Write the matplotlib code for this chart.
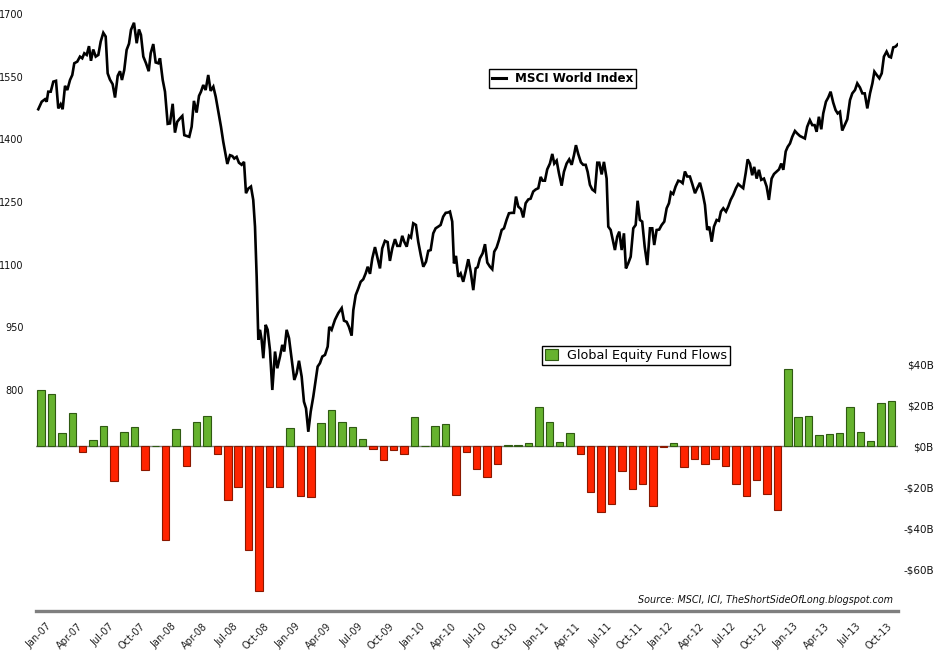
import matplotlib
matplotlib.use("Agg")
import matplotlib.pyplot as plt
import matplotlib.transforms as mtransforms
from matplotlib.lines import Line2D
from matplotlib.patches import Patch
import numpy as np

# ---------------- data ----------------
months = ["Jan", "Feb", "Mar", "Apr", "May", "Jun", "Jul", "Aug", "Sep", "Oct", "Nov", "Dec"]
years = ["07", "08", "09", "10", "11", "12", "13"]
month_labels = [f"{m}-{y}" for y in years for m in months][:83]   # Jan-07 .. Nov-13

# Global equity fund flows, $B per month (Jan-07 .. Nov-13)
flows = [27.5, 25.5, 6.3, 16.3, -2.6, 3.1, 9.9, -16.7, 7.0, 9.4, -11.4, 0.0,
         -45.5, 8.5, -9.4, 11.9, 14.8, -3.9, -26.0, -19.7, -50.4, -70.7, -19.7, -19.7,
         8.9, -24.4, -24.9, 11.2, 17.6, 11.9, 9.3, 3.4, -1.5, -6.8, -2.0, -3.6,
         14.1, 0.0, 9.9, 10.7, -23.6, -2.6, -11.2, -14.8, -8.8, 0.5, 0.5, 1.5,
         19.2, 11.9, 2.0, 6.3, -3.9, -22.1, -31.9, -28.3, -12.0, -20.7, -18.5, -29.3,
         -0.5, 1.5, -9.9, -6.3, -8.5, -6.3, -9.4, -18.2, -24.4, -16.3, -23.1, -30.9,
         37.6, 14.1, 14.6, 5.4, 5.9, 6.3, 19.0, 6.8, 2.6, 21.0, 22.0]

# MSCI World Index (weekly); time in months since Jan-07 (bar index units)
msci_t = [-0.28, 0.05, 0.37, 0.53, 0.68, 0.92, 1.17, 1.43, 1.65, 1.88, 2.07, 2.30, 2.52, 2.78,
          3.00, 3.19, 3.48, 3.74, 3.96, 4.16, 4.39, 4.61, 4.80, 5.02, 5.26, 5.51, 5.74, 5.99,
          6.22, 6.41, 6.63, 6.89, 7.12, 7.38, 7.60, 7.79, 8.01, 8.24, 8.47, 8.66, 8.95, 9.21,
          9.43, 9.62, 9.85, 10.11, 10.37, 10.56, 10.81, 11.04, 11.29, 11.46, 11.72, 11.94,
          12.20, 12.42, 12.68, 12.90, 13.12, 13.38, 13.61, 13.80, 14.03, 14.28, 14.51, 14.73,
          14.99, 15.22, 15.41, 15.63, 15.86, 16.11, 16.34, 16.60, 16.83, 17.08, 17.34, 17.56,
          17.79, 17.95, 18.21, 18.43, 18.62, 18.85, 19.07, 19.33, 19.56, 19.75, 19.97, 20.23,
          20.45, 20.62, 20.78, 20.94, 21.10, 21.26, 21.42, 21.65, 21.84, 22.06, 22.29, 22.55,
          22.77, 23.03, 23.25, 23.44, 23.67, 23.90, 24.16, 24.41, 24.64, 24.86, 25.12, 25.34,
          25.54, 25.76, 25.99, 26.24, 26.47, 26.66, 26.88, 27.11, 27.37, 27.63, 27.78,
          28.01, 28.33, 28.65, 28.98, 29.20, 29.46, 29.68, 29.94, 30.10, 30.33, 30.58, 30.81,
          31.06, 31.29, 31.49, 31.71, 31.93, 32.19, 32.41, 32.67, 32.89, 33.15, 33.41, 33.63,
          33.86, 34.12, 34.34, 34.60, 34.82, 35.01, 35.25, 35.47, 35.66, 35.88, 36.14, 36.36,
          36.62, 36.85, 37.11, 37.33, 37.56, 37.81, 38.04, 38.29, 38.52, 38.77, 39.01, 39.26,
          39.42, 39.64, 39.81, 40.00, 40.22, 40.45, 40.70, 40.93, 41.19, 41.42, 41.67, 41.90,
          42.09, 42.31, 42.57, 42.80, 43.02, 43.28, 43.50, 43.69, 43.92, 44.15, 44.41, 44.63,
          44.89, 45.11, 45.37, 45.59, 45.79, 46.01, 46.27, 46.49, 46.72, 46.97, 47.20, 47.45,
          47.69, 47.94, 48.17, 48.36, 48.58, 48.80, 49.06, 49.29, 49.48, 49.71, 49.93, 50.19,
          50.41, 50.67, 50.92, 51.16, 51.38, 51.57, 51.79, 52.05, 52.27, 52.51, 52.70, 52.92,
          53.14, 53.40, 53.63, 53.82, 54.05, 54.27, 54.53, 54.69, 54.92,
          55.33, 55.55, 55.75, 55.98, 56.20, 56.39, 56.61, 56.85, 57.10, 57.33, 57.52, 57.74,
          57.96, 58.20, 58.45, 58.71, 58.93, 59.12, 59.35, 59.60, 59.84, 60.09, 60.32, 60.54,
          60.73, 60.95, 61.18, 61.44, 61.67, 61.86, 62.08, 62.30, 62.56, 62.79, 63.05, 63.27,
          63.53, 63.79, 64.01, 64.23, 64.43, 64.66, 64.88, 65.14, 65.36, 65.55, 65.78, 66.04,
          66.26, 66.49, 66.74, 67.00, 67.22, 67.45, 67.70, 67.94, 68.13, 68.35, 68.57, 68.76,
          69.00, 69.22, 69.44, 69.70, 69.96, 70.18, 70.44, 70.67, 70.93, 71.15, 71.37, 71.57,
          71.80, 71.99, 72.21, 72.43, 72.69, 72.91, 73.17, 73.40, 73.65, 73.87, 74.13, 74.36,
          74.59, 74.78, 75.00, 75.23, 75.42, 75.68, 75.90, 76.13, 76.38, 76.61, 76.81, 77.03,
          77.25, 77.49, 77.74, 78.00, 78.22, 78.48, 78.70, 78.96, 79.19, 79.42, 79.67, 79.93,
          80.16, 80.35, 80.58, 80.83, 81.06, 81.27, 81.53, 81.76, 81.95, 82.17, 82.40, 82.59]
msci_v = [1472, 1490, 1496, 1490, 1514, 1514, 1538, 1540, 1474, 1484, 1472, 1528, 1518, 1542,
          1554, 1582, 1586, 1598, 1594, 1606, 1602, 1623, 1588, 1615, 1598, 1602, 1634, 1655,
          1646, 1558, 1543, 1532, 1500, 1552, 1563, 1542, 1566, 1614, 1629, 1662, 1679, 1630,
          1663, 1650, 1598, 1582, 1563, 1606, 1628, 1584, 1582, 1594, 1542, 1514,
          1437, 1438, 1485, 1416, 1442, 1450, 1456, 1410, 1408, 1406, 1430, 1492,
          1464, 1504, 1514, 1530, 1518, 1554, 1516, 1526, 1502, 1466, 1430, 1394,
          1362, 1341, 1362, 1360, 1354, 1358, 1344, 1339, 1346, 1271, 1282, 1287,
          1255, 1191, 1071, 920, 944, 920, 876, 956, 944, 896, 800, 892,
          852, 880, 908, 892, 944, 924, 872, 824, 840, 870, 832, 772,
          756, 700, 748, 784, 824, 856, 864, 880, 884, 904, 951,
          944, 968, 984, 996, 966, 963, 951, 930, 991, 1027, 1043, 1059,
          1065, 1079, 1095, 1078, 1115, 1142, 1119, 1091, 1139, 1157, 1154, 1109,
          1139, 1161, 1145, 1145, 1169, 1155, 1143, 1169, 1165, 1199, 1195, 1155,
          1121, 1095, 1107, 1133, 1135, 1175, 1187, 1191, 1195, 1215, 1224, 1225,
          1227, 1203, 1103, 1121, 1071, 1079, 1059, 1083, 1113, 1083, 1039, 1091,
          1094, 1115, 1127, 1149, 1105, 1095, 1089, 1131, 1141, 1159, 1183, 1187,
          1208, 1223, 1224, 1224, 1263, 1239, 1233, 1213, 1247, 1256, 1258, 1275,
          1280, 1283, 1310, 1301, 1301, 1328, 1342, 1365, 1342, 1349, 1319, 1289,
          1322, 1342, 1352, 1339, 1362, 1386, 1365, 1345, 1339, 1339, 1322, 1291,
          1280, 1275, 1344, 1344, 1316, 1346, 1306, 1191, 1183,
          1135, 1167, 1179, 1135, 1175, 1091, 1103, 1119, 1187, 1195, 1253, 1207,
          1203, 1143, 1099, 1187, 1187, 1147, 1183, 1184, 1195, 1203, 1235, 1247,
          1273, 1269, 1287, 1301, 1299, 1295, 1323, 1311, 1311, 1293, 1271, 1283,
          1296, 1271, 1243, 1183, 1191, 1155, 1191, 1207, 1205, 1227, 1235, 1227,
          1239, 1255, 1267, 1283, 1293, 1288, 1283, 1319, 1352, 1342, 1314, 1334,
          1306, 1327, 1303, 1306, 1287, 1255, 1306, 1317, 1323, 1328, 1342, 1327,
          1371, 1382, 1390, 1406, 1420, 1414, 1408, 1405, 1402, 1430, 1446, 1434,
          1434, 1418, 1454, 1424, 1462, 1490, 1500, 1514, 1488, 1470, 1462, 1466,
          1421, 1434, 1448, 1494, 1510, 1518, 1534, 1524, 1510, 1510, 1474, 1510,
          1534, 1562, 1554, 1546, 1558, 1598, 1610, 1598, 1596, 1620, 1622, 1627]

left_ticks = [800, 950, 1100, 1250, 1400, 1550, 1700]
right_ticks = [40, 20, 0, -20, -40, -60]
right_labels = ["$40B", "$20B", "$0B", "-$20B", "-$40B", "-$60B"]

GREEN, GREEN_EDGE = "#66B22E", "#2F5A12"
RED, RED_EDGE = "#FF2400", "#8A1800"

# ---------------- figure ----------------
W, H = 940, 653
fig = plt.figure(figsize=(W / 100, H / 100), dpi=100)
plt.rcParams["font.family"] = ["DejaVu Sans"]

ax_l, ax_r, ax_b, ax_t = 36, 897.7, 611, 5
ax1 = fig.add_axes([ax_l / W, 1 - ax_b / H, (ax_r - ax_l) / W, (ax_b - ax_t) / H])
ax2 = ax1.twinx()

idx = np.arange(len(flows))
colors = [GREEN if f >= 0 else RED for f in flows]
edges = [GREEN_EDGE if f >= 0 else RED_EDGE for f in flows]
ax2.bar(idx, flows, width=0.72, color=colors, edgecolor=edges, linewidth=0.8, zorder=2)
ax2.axhline(0, color="#808080", linewidth=1.0, zorder=1)

ax1.plot(msci_t, msci_v, color="black", linewidth=1.9, solid_joinstyle="miter", zorder=3)
ax1.set_zorder(ax2.get_zorder() + 1)
ax1.patch.set_visible(False)

ax1.set_xlim(-0.5, 82.6)
ax1.set_ylim(271, 1721.5)
ax2.set_ylim(-80.3, 215.3)

for a in (ax1, ax2):
    for s in a.spines.values():
        s.set_visible(False)
ax1.spines["bottom"].set_visible(True)
ax1.spines["bottom"].set_color("#7f7f7f")
ax1.spines["bottom"].set_linewidth(2.4)

ax1.set_yticks(left_ticks)
ax1.set_yticklabels([str(v) for v in left_ticks])
ax1.tick_params(axis="y", length=0, pad=9, labelsize=7, labelcolor="#111111")

ax2.set_yticks(right_ticks)
ax2.set_yticklabels(right_labels)
ax2.tick_params(axis="y", length=0, pad=26, labelsize=7.5, labelcolor="#111111")
for lbl in ax2.get_yticklabels():
    lbl.set_horizontalalignment("right")

xt = list(range(0, 82, 3))
ax1.set_xticks(xt)
ax1.set_xticklabels([month_labels[i] for i in xt])
ax1.tick_params(axis="x", length=0, pad=10, labelsize=7, labelcolor="#222222")
offset = mtransforms.ScaledTranslation(0.09, 0, fig.dpi_scale_trans)
for lbl in ax1.get_xticklabels():
    lbl.set_rotation(45)
    lbl.set_rotation_mode("anchor")
    lbl.set_horizontalalignment("right")
    lbl.set_verticalalignment("center")
    lbl.set_transform(lbl.get_transform() + offset)

# legends
leg1 = fig.legend(handles=[Line2D([], [], color="black", linewidth=2.2)],
                  labels=["MSCI World Index"], loc="center",
                  bbox_to_anchor=(562.5 / W, 1 - 78.7 / H), frameon=True, fancybox=False,
                  edgecolor="black", framealpha=1, borderpad=0.25, handlelength=1.2,
                  handletextpad=0.7, prop={"weight": "bold", "size": 8.6})
leg1.get_frame().set_linewidth(1.0)
leg2 = fig.legend(handles=[Patch(facecolor=GREEN, edgecolor=GREEN_EDGE, linewidth=0.8)],
                  labels=["Global Equity Fund Flows"], loc="center",
                  bbox_to_anchor=(636 / W, 1 - 355.5 / H), frameon=True, fancybox=False,
                  edgecolor="black", framealpha=1, borderpad=0.25, handlelength=1.0,
                  handleheight=0.9, handletextpad=0.7, prop={"size": 9.2})
leg2.get_frame().set_linewidth(1.0)

fig.text(893 / W, 1 - 600 / H, "Source: MSCI, ICI, TheShortSideOfLong.blogspot.com",
         ha="right", va="center", style="italic", fontsize=6.9, color="#111111")

fig.savefig("out.png", dpi=100)
